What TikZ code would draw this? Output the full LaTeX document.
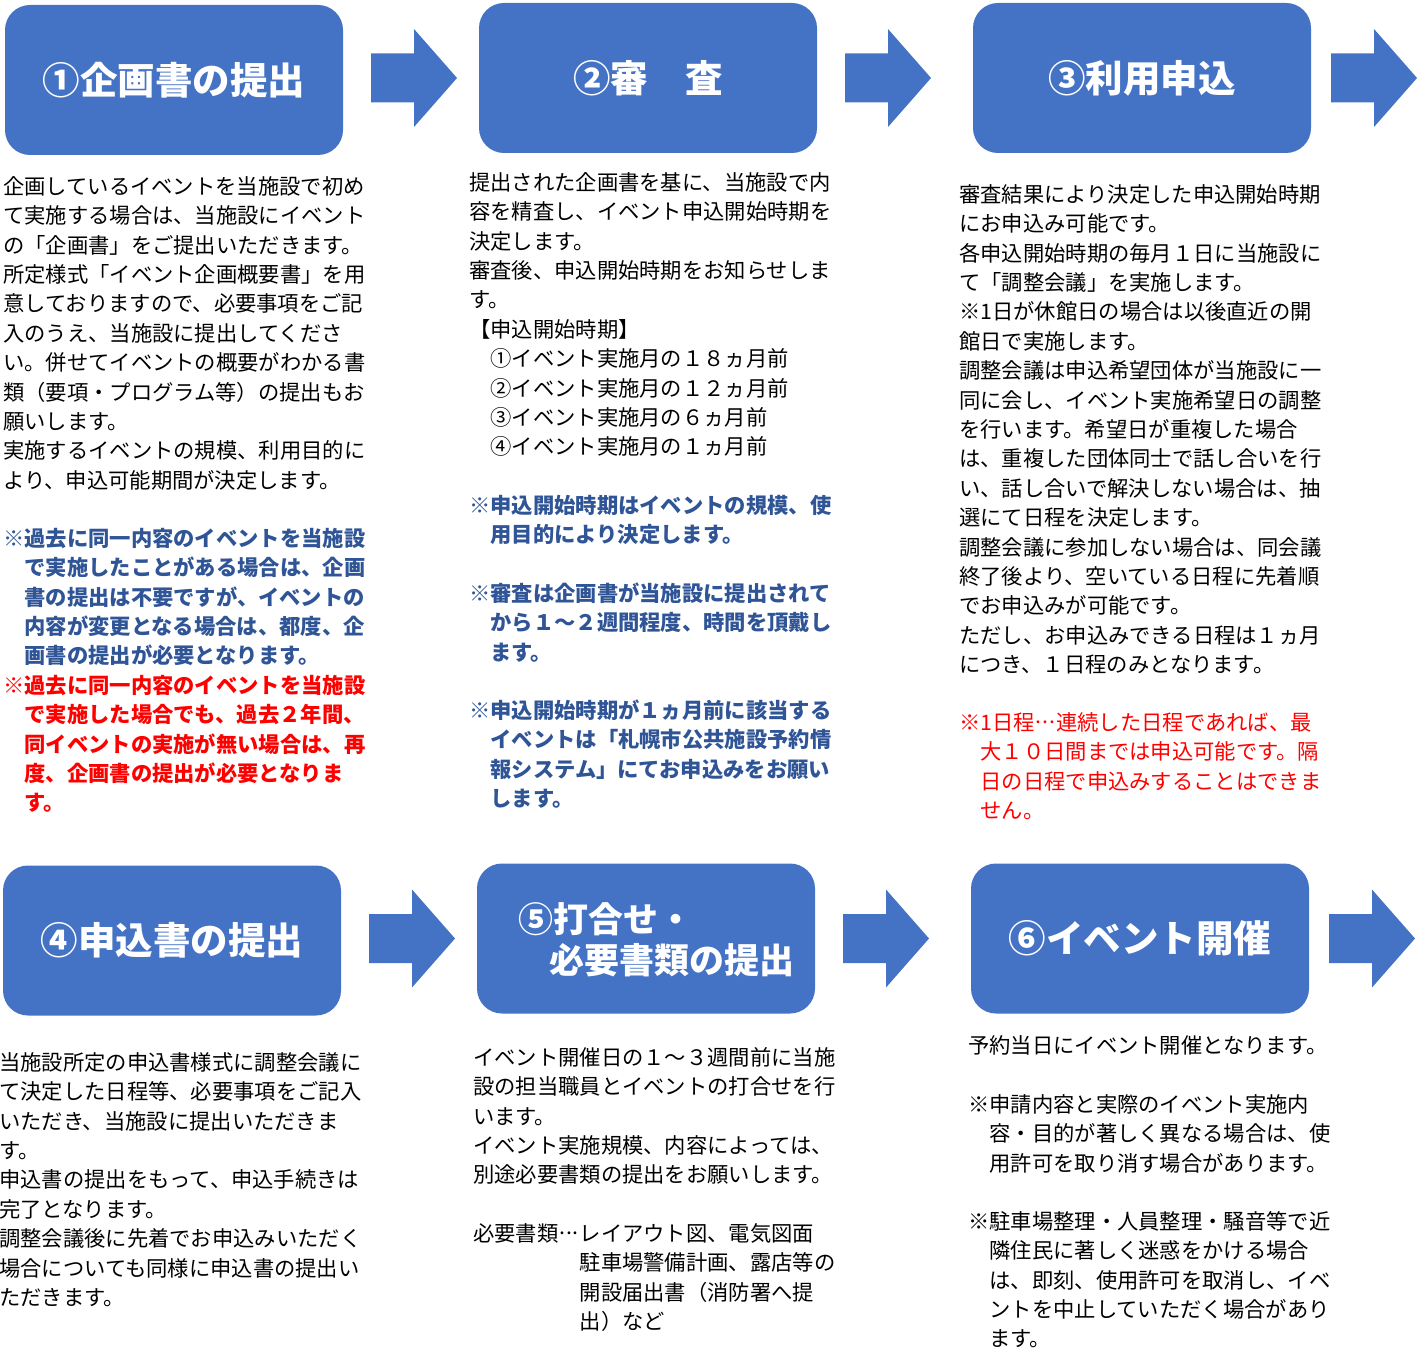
\documentclass[tikz,border=0pt]{standalone}
\usepackage{fontspec}
\setmainfont{Noto Sans CJK JP}
\definecolor{boxblue}{HTML}{4472C4}
\definecolor{noteblue}{HTML}{2F5597}
\definecolor{notered}{HTML}{FF0000}
\newcommand\tstrut{\rule{0pt}{0.88em}}
\newcommand\fwell{\makebox[1em][s]{\hfill\raisebox{0.3em}{.}\hfill\raisebox{0.3em}{.}\hfill\raisebox{0.3em}{.}\hfill}}
\tikzset{
  stepbox/.style={fill=boxblue, draw=none, rounded corners=25pt, minimum width=338pt, minimum height=150pt, inner sep=0pt, text=white, font=\fontsize{37.5}{41}\selectfont\bfseries},
  body/.style={anchor=north west, inner sep=0pt, align=left, text=black, font=\fontsize{21.3}{29.4}\selectfont},
  bluenote/.style={body, text=noteblue, font=\fontsize{21.3}{29.4}\selectfont\bfseries},
  rednote/.style={body, text=notered, font=\fontsize{21.3}{29.4}\selectfont\bfseries},
  rednotelight/.style={body, text=notered},
  blockarrow/.pic={\fill[boxblue] (0,-24.5) -- (43,-24.5) -- (43,-49) -- (86,0) -- (43,49) -- (43,24.5) -- (0,24.5) -- cycle;}
}
\begin{document}
\begin{tikzpicture}[x=1pt, y=-1pt]
\useasboundingbox (0,0) rectangle (1426,1348);
% row 1 boxes
\node[stepbox] (b1) at (174,80) {①企画書の提出};
\node[stepbox] (b2) at (648,78) {②審　査};
\node[stepbox] (b3) at (1142,78) {③利用申込};
% row 2 boxes
\node[stepbox] (b4) at (172,940.5) {④申込書の提出};
\node[stepbox] (b5) at (646,938.5) {};
\node[anchor=north west, inner sep=0pt, align=left, text=white, font=\fontsize{35}{41}\selectfont\bfseries] (t5title) at (518,901.5) {\rule{0pt}{0.88em}⑤打合せ・\\\hspace*{31pt}必要書類の提出};
\node[stepbox] (b6) at (1140,938.5) {⑥イベント開催};
% block arrows
\pic at (371,78) {blockarrow};
\pic at (845,78) {blockarrow};
\pic at (1331,78) {blockarrow};
\pic at (369,938.5) {blockarrow};
\pic at (843,938.5) {blockarrow};
\pic at (1329,938.5) {blockarrow};
% column 1
\node[body] (t1) at (3,175.4) {\tstrut 企画しているイベントを当施設で初め\\て実施する場合は、当施設にイベント\\の「企画書」をご提出いただきます。\\所定様式「イベント企画概要書」を用\\意しておりますので、必要事項をご記\\入のうえ、当施設に提出してくださ\\い。併せてイベントの概要がわかる書\\類（要項・プログラム等）の提出もお\\願いします。\\実施するイベントの規模、利用目的に\\より、申込可能期間が決定します。};
\node[bluenote] (n1b) at (3,527.4) {\tstrut ※過去に同一内容のイベントを当施設\\　で実施したことがある場合は、企画\\　書の提出は不要ですが、イベントの\\　内容が変更となる場合は、都度、企\\　画書の提出が必要となります。};
\node[rednote] (n1r) at (3,674.4) {\tstrut ※過去に同一内容のイベントを当施設\\　で実施した場合でも、過去２年間、\\　同イベントの実施が無い場合は、再\\　度、企画書の提出が必要となりま\\　す。};
% column 2
\node[body] (t2) at (469,171.4) {\tstrut 提出された企画書を基に、当施設で内\\容を精査し、イベント申込開始時期を\\決定します。\\審査後、申込開始時期をお知らせしま\\す。\\【申込開始時期】\\　①イベント実施月の１８ヵ月前\\　②イベント実施月の１２ヵ月前\\　③イベント実施月の６ヵ月前\\　④イベント実施月の１ヵ月前};
\node[bluenote] (n2a) at (469,494.4) {\tstrut ※申込開始時期はイベントの規模、使\\　用目的により決定します。};
\node[bluenote] (n2b) at (469,582.4) {\tstrut ※審査は企画書が当施設に提出されて\\　から１～２週間程度、時間を頂戴し\\　ます。};
\node[bluenote] (n2c) at (469,699.4) {\tstrut ※申込開始時期が１ヵ月前に該当する\\　イベントは「札幌市公共施設予約情\\　報システム」にてお申込みをお願い\\　します。};
% column 3
\node[body] (t3) at (959,183.4) {\tstrut 審査結果により決定した申込開始時期\\にお申込み可能です。\\各申込開始時期の毎月１日に当施設に\\て「調整会議」を実施します。\\※1日が休館日の場合は以後直近の開\\館日で実施します。\\調整会議は申込希望団体が当施設に一\\同に会し、イベント実施希望日の調整\\を行います。希望日が重複した場合\\は、重複した団体同士で話し合いを行\\い、話し合いで解決しない場合は、抽\\選にて日程を決定します。\\調整会議に参加しない場合は、同会議\\終了後より、空いている日程に先着順\\でお申込みが可能です。\\ただし、お申込みできる日程は１ヵ月\\につき、１日程のみとなります。};
\node[rednotelight] (n3r) at (959,711.4) {\tstrut ※1日程\fwell 連続した日程であれば、最\\　大１０日間までは申込可能です。隔\\　日の日程で申込みすることはできま\\　せん。};
% row 2 texts
\node[body] (t4) at (-1,1051.4) {\tstrut 当施設所定の申込書様式に調整会議に\\て決定した日程等、必要事項をご記入\\いただき、当施設に提出いただきま\\す。\\申込書の提出をもって、申込手続きは\\完了となります。\\調整会議後に先着でお申込みいただく\\場合についても同様に申込書の提出い\\ただきます。};
\node[body] (t5a) at (473,1046.4) {\tstrut イベント開催日の１～３週間前に当施\\設の担当職員とイベントの打合せを行\\います。\\イベント実施規模、内容によっては、\\別途必要書類の提出をお願いします。};
\node[body] (t5b) at (473,1222.4) {\tstrut 必要書類\fwell レイアウト図、電気図面\\　　　　　駐車場警備計画、露店等の\\　　　　　開設届出書（消防署へ提\\　　　　　出）など};
\node[body] (t6a) at (968,1034.4) {\tstrut 予約当日にイベント開催となります。};
\node[body] (t6b) at (968,1093.4) {\tstrut ※申請内容と実際のイベント実施内\\　容・目的が著しく異なる場合は、使\\　用許可を取り消す場合があります。};
\node[body] (t6c) at (968,1210.4) {\tstrut ※駐車場整理・人員整理・騒音等で近\\　隣住民に著しく迷惑をかける場合\\　は、即刻、使用許可を取消し、イベ\\　ントを中止していただく場合があり\\　ます。};
\end{tikzpicture}
\end{document}
